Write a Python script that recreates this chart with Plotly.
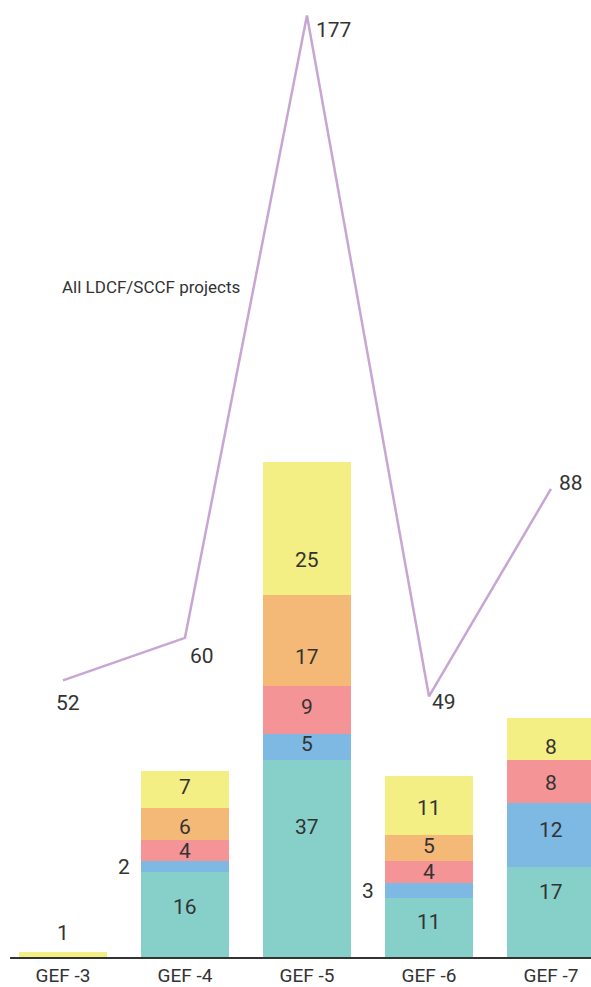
import plotly.graph_objects as go

categories = ["GEF -3", "GEF -4", "GEF -5", "GEF -6", "GEF -7"]
teal = [0, 16, 37, 11, 17]
blue = [0, 2, 5, 3, 12]
pink = [0, 4, 9, 4, 8]
orange = [0, 6, 17, 5, 0]
yellow = [1, 7, 25, 11, 8]
all_projects = [52, 60, 177, 49, 88]
line_name = "All LDCF/SCCF projects"

FONT = "Roboto, sans-serif"
TXT = "#333333"
series = [
    ("Series 1", teal, "#86D0C9"),
    ("Series 2", blue, "#7DB9E3"),
    ("Series 3", pink, "#F49496"),
    ("Series 4", orange, "#F4B977"),
    ("Series 5", yellow, "#F4EF84"),
]
# per-label vertical nudges (px, style only)
label_nudge = [
    [0, 7, 32, 6, 20],
    [0, 0, 3, 0, 5],
    [0, 0, 3, 0, -2],
    [0, -3, -17, 2, 0],
    [0, 2, -31, -3, -8],
]
xs = list(range(len(categories)))
BW = 0.72

fig = go.Figure()
for name, vals, col in series:
    fig.add_trace(go.Bar(x=xs, y=vals, name=name, marker=dict(color=col, line=dict(width=0)),
                         width=BW, hoverinfo="skip"))

fig.add_trace(go.Scatter(x=xs, y=all_projects, mode="lines", name=line_name,
                         line=dict(color="#C7A6D3", width=2.5)))

ann = []
base = [0] * len(categories)
for si, (name, vals, col) in enumerate(series):
    for i, v in enumerate(vals):
        if v > 0:
            mid = base[i] + v / 2
            is_top = all(series[k][1][i] == 0 for k in range(si + 1, len(series)))
            if v <= 3 and is_top and base[i] == 0:
                ann.append(dict(x=i, y=base[i] + v, text=str(v), showarrow=False,
                                yanchor="bottom", yshift=5))
            elif v <= 3:
                ann.append(dict(x=i - BW / 2, y=mid, text=str(v), showarrow=False,
                                xanchor="right", xshift=-9))
            else:
                ann.append(dict(x=i, y=mid, text=str(v), showarrow=False,
                                yshift=label_nudge[si][i]))
        base[i] += v

shifts = [(5, -23), (17, -18), (27, -15), (15, -6), (20, 6)]
for i, v in enumerate(all_projects):
    dx, dy = shifts[i]
    ann.append(dict(x=i, y=v, text=str(v), showarrow=False, xshift=dx, yshift=dy))

ann.append(dict(x=1.47, y=126, text=line_name, showarrow=False, xanchor="right",
                font=dict(size=17)))

fig.update_layout(
    width=591, height=987,
    margin=dict(l=10, r=0, t=0, b=30),
    barmode="stack",
    showlegend=False,
    plot_bgcolor="white", paper_bgcolor="white",
    font=dict(family=FONT, size=21, color=TXT),
    annotations=ann,
    xaxis=dict(range=[-0.434, 4.328], tickvals=xs, ticktext=categories,
               showgrid=False, zeroline=False, showline=True, linecolor="#333333",
               linewidth=1.5, ticks="", automargin=False,
               tickfont=dict(size=19, color=TXT), layer="below traces"),
    yaxis=dict(range=[0, 179.9], visible=False, showgrid=False, zeroline=False),
)

fig.write_html("out.html")
